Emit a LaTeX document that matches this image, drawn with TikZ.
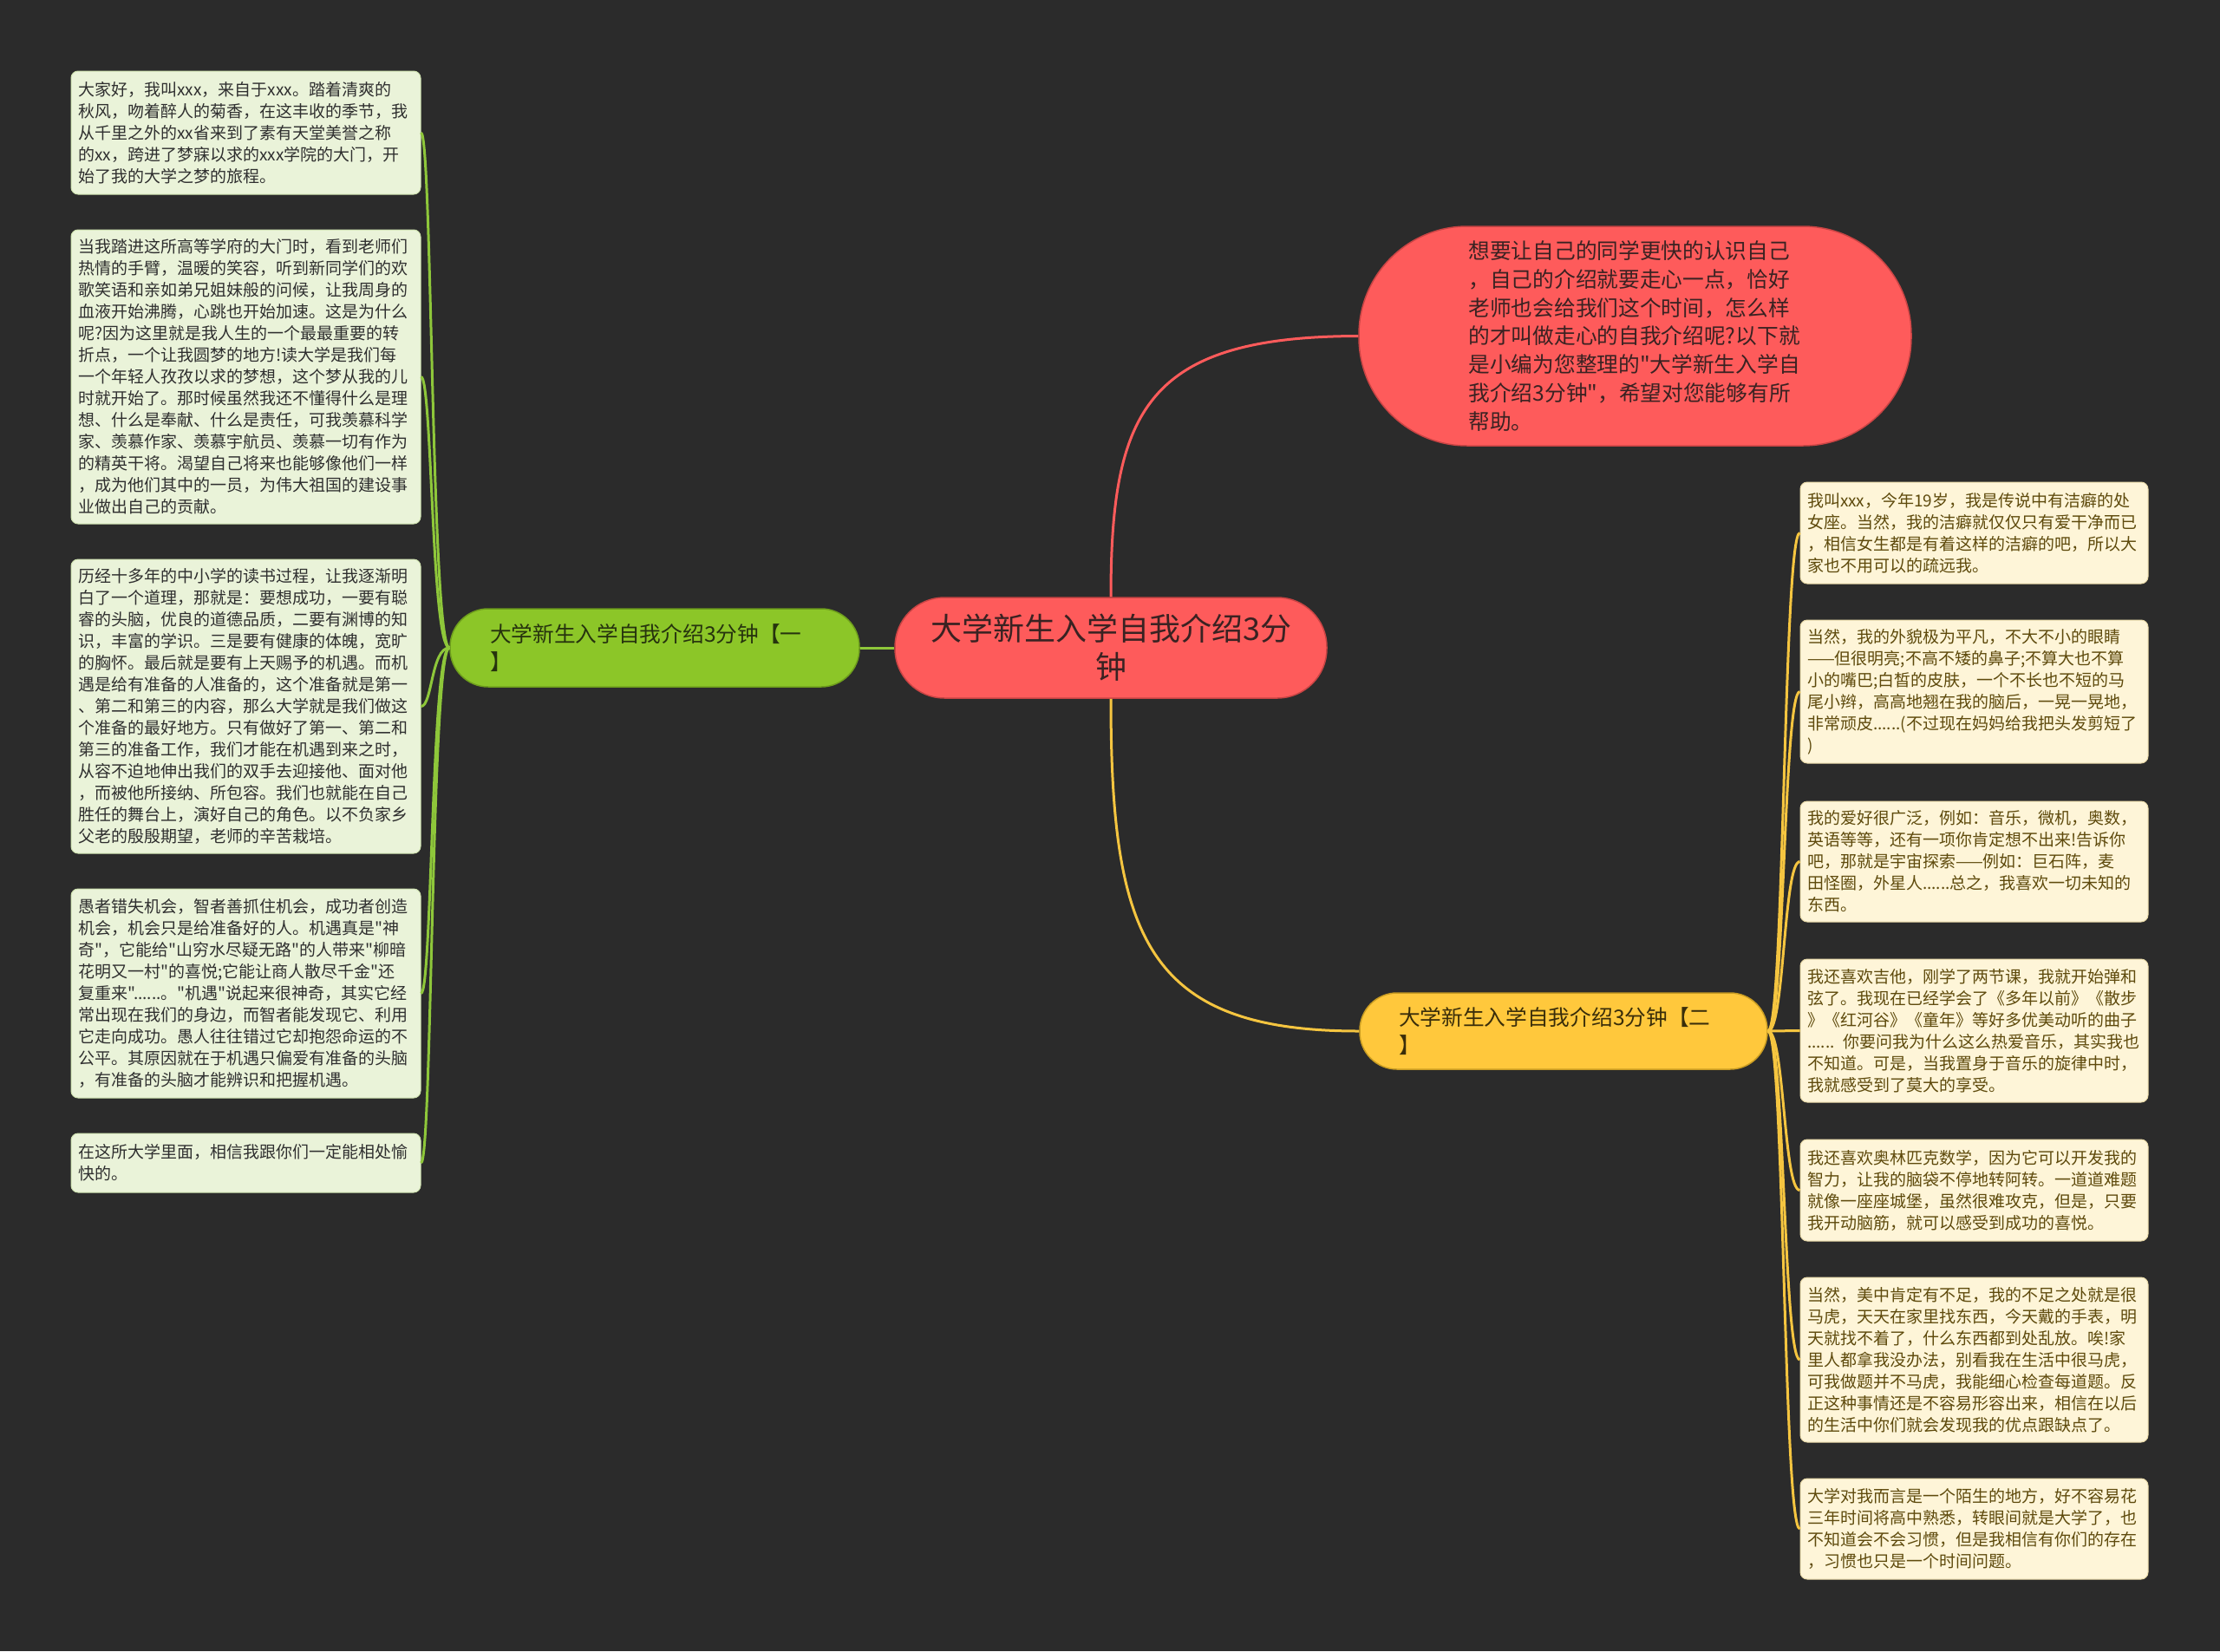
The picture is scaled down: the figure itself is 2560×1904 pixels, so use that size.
\documentclass[tikz,border=0pt]{standalone}
\usepackage{fontspec}
\setmainfont{Noto Sans CJK SC}[Ligatures=TeXOff]
\definecolor{bgc}{HTML}{2B2B2B}
\definecolor{redc}{HTML}{FE5B5B}
\definecolor{redd}{HTML}{C94444}
\definecolor{grc}{HTML}{8CC628}
\definecolor{grd}{HTML}{6E9E1C}
\definecolor{yec}{HTML}{FFC83C}
\definecolor{yed}{HTML}{C99C22}
\definecolor{gline}{HTML}{8EC73A}
\definecolor{rline}{HTML}{FE5B5B}
\definecolor{yline}{HTML}{F5C540}
\definecolor{lfill}{HTML}{EAF3D9}
\definecolor{ldraw}{HTML}{CFE2B0}
\definecolor{rfill}{HTML}{FEF5D8}
\definecolor{rdraw}{HTML}{E8D9A8}
\definecolor{ltext}{HTML}{2F2F2F}
\definecolor{rtext}{HTML}{5E4A0C}
\definecolor{ctext}{HTML}{3A2222}
\definecolor{gtext}{HTML}{26330E}
\definecolor{ytext}{HTML}{3A2E0A}
\begin{document}
\begin{tikzpicture}[x=1pt,y=-1pt,
  lbox/.style={draw=ldraw, line width=1pt, fill=lfill, rounded corners=8pt, text=ltext,
    text width=386pt, inner xsep=8.5pt, inner ysep=0pt, align=left,
    minimum width=403pt, font=\fontsize{19}{25}\selectfont},
  rbox/.style={draw=rdraw, line width=1pt, fill=rfill, rounded corners=8pt, text=rtext,
    text width=385pt, inner xsep=8pt, inner ysep=0pt, align=left,
    minimum width=401pt, font=\fontsize{19}{25}\selectfont},
  bignode/.style={line width=1.5pt, inner sep=0pt},
  gconn/.style={draw=gline, line width=3pt},
  rconn/.style={draw=rline, line width=3pt},
  yconn/.style={draw=yline, line width=3pt}
]
\fill[bgc] (0,0) rectangle (2560,1904);
\useasboundingbox (0,0) rectangle (2560,1904);

% central node
\node[bignode, fill=redc, draw=redd, rounded corners=57pt, minimum width=498pt,
  minimum height=116pt, align=center, text=ctext, font=\fontsize{36}{44}\selectfont]
  (c) at (1281,747) {大学新生入学自我介绍3分\\钟};

% top red node
\node[bignode, fill=redc, draw=redd, rounded corners=125pt, minimum width=637pt,
  minimum height=253pt, text width=384pt, align=left, text=ctext,
  font=\fontsize{24.7}{32.7}\selectfont]
  (t) at (1885.5,387.5) {想要让自己的同学更快的认识自己\\，自己的介绍就要走心一点，恰好\\老师也会给我们这个时间，怎么样\\的才叫做走心的自我介绍呢?以下就\\是小编为您整理的"大学新生入学自\\我介绍3分钟"，希望对您能够有所\\帮助。};

% green branch
\node[bignode, fill=grc, draw=grd, rounded corners=44pt, minimum width=472pt,
  minimum height=90pt, text width=380pt, align=left, text=gtext,
  font=\fontsize{24.7}{32.7}\selectfont]
  (g) at (755,747) {大学新生入学自我介绍3分钟【一\\】};

% yellow branch
\node[bignode, fill=yec, draw=yed, rounded corners=43pt, minimum width=470pt,
  minimum height=88pt, text width=380pt, align=left, text=ytext,
  font=\fontsize{24.7}{32.7}\selectfont]
  (y) at (1803,1189) {大学新生入学自我介绍3分钟【二\\】};

% left boxes
\node[lbox, minimum height=142pt] (l1) at (283.5,153) {大家好，我叫xxx，来自于xxx。踏着清爽的\\秋风，吻着醉人的菊香，在这丰收的季节，我\\从千里之外的xx省来到了素有天堂美誉之称\\的xx，跨进了梦寐以求的xxx学院的大门，开\\始了我的大学之梦的旅程。};
\node[lbox, minimum height=339pt] (l2) at (283.5,434.5) {当我踏进这所高等学府的大门时，看到老师们\\热情的手臂，温暖的笑容，听到新同学们的欢\\歌笑语和亲如弟兄姐妹般的问候，让我周身的\\血液开始沸腾，心跳也开始加速。这是为什么\\呢?因为这里就是我人生的一个最最重要的转\\折点，一个让我圆梦的地方!读大学是我们每\\一个年轻人孜孜以求的梦想，这个梦从我的儿\\时就开始了。那时候虽然我还不懂得什么是理\\想、什么是奉献、什么是责任，可我羡慕科学\\家、羡慕作家、羡慕宇航员、羡慕一切有作为\\的精英干将。渴望自己将来也能够像他们一样\\，成为他们其中的一员，为伟大祖国的建设事\\业做出自己的贡献。};
\node[lbox, minimum height=339pt] (l3) at (283.5,814.5) {历经十多年的中小学的读书过程，让我逐渐明\\白了一个道理，那就是：要想成功，一要有聪\\睿的头脑，优良的道德品质，二要有渊博的知\\识，丰富的学识。三是要有健康的体魄，宽旷\\的胸怀。最后就是要有上天赐予的机遇。而机\\遇是给有准备的人准备的，这个准备就是第一\\、第二和第三的内容，那么大学就是我们做这\\个准备的最好地方。只有做好了第一、第二和\\第三的准备工作，我们才能在机遇到来之时，\\从容不迫地伸出我们的双手去迎接他、面对他\\，而被他所接纳、所包容。我们也就能在自己\\胜任的舞台上，演好自己的角色。以不负家乡\\父老的殷殷期望，老师的辛苦栽培。};
\node[lbox, minimum height=241pt] (l4) at (283.5,1145.5) {愚者错失机会，智者善抓住机会，成功者创造\\机会，机会只是给准备好的人。机遇真是"神\\奇"，它能给"山穷水尽疑无路"的人带来"柳暗\\花明又一村"的喜悦;它能让商人散尽千金"还\\复重来"......。"机遇"说起来很神奇，其实它经\\常出现在我们的身边，而智者能发现它、利用\\它走向成功。愚人往往错过它却抱怨命运的不\\公平。其原因就在于机遇只偏爱有准备的头脑\\，有准备的头脑才能辨识和把握机遇。};
\node[lbox, minimum height=68pt] (l5) at (283.5,1341) {在这所大学里面，相信我跟你们一定能相处愉\\快的。};

% right boxes
\node[rbox, minimum height=117pt] (r1) at (2276.5,614.5) {我叫xxx，今年19岁，我是传说中有洁癖的处\\女座。当然，我的洁癖就仅仅只有爱干净而已\\，相信女生都是有着这样的洁癖的吧，所以大\\家也不用可以的疏远我。};
\node[rbox, minimum height=165pt] (r2) at (2276.5,797.5) {当然，我的外貌极为平凡，不大不小的眼睛\\——但很明亮;不高不矮的鼻子;不算大也不算\\小的嘴巴;白皙的皮肤，一个不长也不短的马\\尾小辫，高高地翘在我的脑后，一晃一晃地，\\非常顽皮......(不过现在妈妈给我把头发剪短了\\)};
\node[rbox, minimum height=139pt] (r3) at (2276.5,993.5) {我的爱好很广泛，例如：音乐，微机，奥数，\\英语等等，还有一项你肯定想不出来!告诉你\\吧，那就是宇宙探索——例如：巨石阵，麦\\田怪圈，外星人......总之，我喜欢一切未知的\\东西。};
\node[rbox, minimum height=165pt] (r4) at (2276.5,1188.5) {我还喜欢吉他，刚学了两节课，我就开始弹和\\弦了。我现在已经学会了《多年以前》《散步\\》《红河谷》《童年》等好多优美动听的曲子\\...... 你要问我为什么这么热爱音乐，其实我也\\不知道。可是，当我置身于音乐的旋律中时，\\我就感受到了莫大的享受。};
\node[rbox, minimum height=117pt] (r5) at (2276.5,1372.5) {我还喜欢奥林匹克数学，因为它可以开发我的\\智力，让我的脑袋不停地转阿转。一道道难题\\就像一座座城堡，虽然很难攻克，但是，只要\\我开动脑筋，就可以感受到成功的喜悦。};
\node[rbox, minimum height=190pt] (r6) at (2276.5,1568) {当然，美中肯定有不足，我的不足之处就是很\\马虎，天天在家里找东西，今天戴的手表，明\\天就找不着了，什么东西都到处乱放。唉!家\\里人都拿我没办法，别看我在生活中很马虎，\\可我做题并不马虎，我能细心检查每道题。反\\正这种事情还是不容易形容出来，相信在以后\\的生活中你们就会发现我的优点跟缺点了。};
\node[rbox, minimum height=116pt] (r7) at (2276.5,1763) {大学对我而言是一个陌生的地方，好不容易花\\三年时间将高中熟悉，转眼间就是大学了，也\\不知道会不会习惯，但是我相信有你们的存在\\，习惯也只是一个时间问题。};

% connectors
\draw[rconn] (c.north) .. controls (1281,473) and (1322,388) .. (t.west);
\draw[yconn] (c.south) .. controls (1281,1081) and (1322,1189) .. (y.west);
\draw[gconn] (c.west) -- (g.east);
\foreach \n in {l1,l2,l3,l4,l5}
  \draw[gconn] (g.west) .. controls +(-21,0) and +(13,0) .. (\n.east);
\foreach \n in {r1,r2,r3,r4,r5,r6,r7}
  \draw[yconn] (y.east) .. controls +(19,0) and +(-19,0) .. (\n.west);
\end{tikzpicture}
\end{document}
